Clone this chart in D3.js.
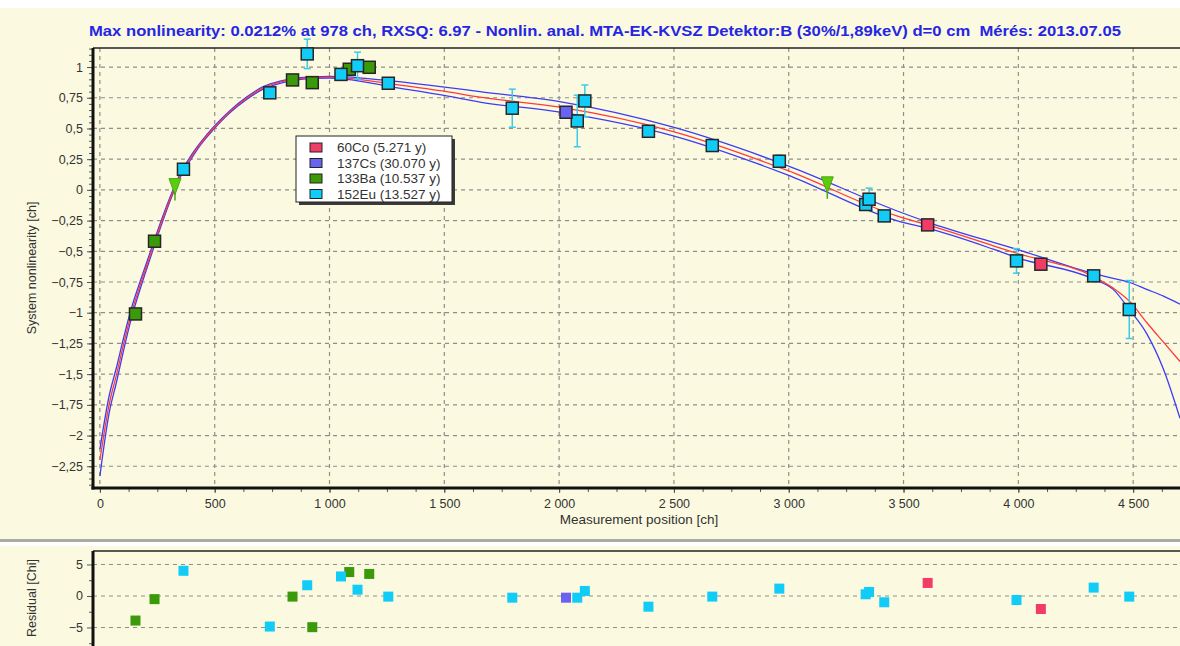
<!DOCTYPE html>
<html>
<head>
<meta charset="utf-8">
<script src="https://cdn.jsdelivr.net/npm/d3@7"></script>
<style>
  html, body { margin: 0; padding: 0; background: #ffffff; }
  svg { display: block; }
  text { font-family: "Liberation Sans", Arial, sans-serif; }
</style>
</head>
<body>
<svg id="chart" width="1180" height="646"></svg>
<script>
// ---- Measured points per source (channel, nonlinearity [ch], 1-sigma, residual [chi]) ----
const co60X   = [3605, 4098];
const co60Y   = [-0.285, -0.605];
const co60Err = [0.015, 0.015];
const co60Res = [2.07, -2.07];

const cs137X   = [2030];
const cs137Y   = [0.632];
const cs137Err = [0.035];
const cs137Res = [-0.27];

const ba133X   = [155, 238, 839, 925, 1086, 1173];
const ba133Y   = [-1.01, -0.418, 0.895, 0.873, 0.982, 0.998];
const ba133Err = [0.01, 0.01, 0.01, 0.01, 0.01, 0.01];
const ba133Res = [-3.9, -0.5, -0.1, -4.95, 3.8, 3.5];

const eu152X   = [364, 740, 903, 1050, 1122, 1256, 1796, 2079, 2112, 2389, 2667, 2959, 3335, 3350, 3416, 3992, 4328, 4483];
const eu152Y   = [0.168, 0.79, 1.107, 0.94, 1.011, 0.868, 0.665, 0.561, 0.724, 0.477, 0.361, 0.233, -0.119, -0.076, -0.212, -0.578, -0.70, -0.974];
const eu152Err = [0.02, 0.02, 0.12, 0.02, 0.11, 0.03, 0.155, 0.21, 0.13, 0.02, 0.03, 0.05, 0.03, 0.09, 0.02, 0.10, 0.02, 0.236];
const eu152Res = [4.0, -4.85, 1.7, 3.1, 1.0, -0.1, -0.27, -0.27, 0.8, -1.7, -0.1, 1.17, 0.27, 0.64, -1.0, -0.64, 1.33, -0.1];

// points left out of the fit
const excludedX = [327, 3168];
const excludedY = [0.027, 0.041];

// ---- Fitted nonlinearity curve and its confidence band ----
const fitX   = [0, 40, 73, 104, 138, 180, 225, 270, 312, 348, 392, 440, 494, 566, 639, 711, 784, 857, 929, 1001, 1074, 1256, 1510, 1655, 1996, 2497, 2991, 3484, 3605, 3891, 4000, 4326, 4413, 4486, 4559, 4632, 4704];
const fitY   = [-2.20, -1.75, -1.50, -1.25, -1.00, -0.75, -0.50, -0.255, -0.045, 0.11, 0.25, 0.38, 0.50, 0.637, 0.746, 0.83, 0.877, 0.903, 0.914, 0.916, 0.91, 0.866, 0.80, 0.755, 0.675, 0.474, 0.16, -0.22, -0.285, -0.455, -0.52, -0.705, -0.80, -0.91, -1.08, -1.24, -1.397];
const upperY = [-2.11, -1.68, -1.44, -1.20, -0.96, -0.72, -0.475, -0.235, -0.03, 0.125, 0.265, 0.39, 0.51, 0.645, 0.755, 0.84, 0.886, 0.91, 0.92, 0.923, 0.92, 0.889, 0.835, 0.80, 0.72, 0.51, 0.20, -0.18, -0.262, -0.428, -0.488, -0.68, -0.72, -0.754, -0.81, -0.865, -0.93];
const lowerY = [-2.33, -1.82, -1.56, -1.30, -1.04, -0.78, -0.525, -0.275, -0.06, 0.095, 0.235, 0.37, 0.49, 0.628, 0.737, 0.82, 0.868, 0.896, 0.908, 0.909, 0.90, 0.843, 0.765, 0.715, 0.635, 0.44, 0.125, -0.258, -0.312, -0.483, -0.555, -0.725, -0.81, -0.98, -1.17, -1.46, -1.86];

// ---- Axis ticks ----
const xTicks   = [0, 500, 1000, 1500, 2000, 2500, 3000, 3500, 4000, 4500];
const yTicks   = [1, 0.75, 0.5, 0.25, 0, -0.25, -0.5, -0.75, -1, -1.25, -1.5, -1.75, -2, -2.25];
const resTicks = [5, 0, -5];

const titleText = "Max nonlinearity: 0.0212% at 978 ch, RXSQ: 6.97 - Nonlin. anal. MTA-EK-KVSZ Detektor:B (30%/1,89keV) d=0 cm  Mérés: 2013.07.05";
const legendNames = ["60Co (5.271 y)", "137Cs (30.070 y)", "133Ba (10.537 y)", "152Eu (13.527 y)"];
const colors = { co60: "#f23c68", cs137: "#6a62f0", ba133: "#3a9a0a", eu152: "#10ccf6" };

// ---- Layout ----
const W = 1180, H = 646;
const main = { left: 93, right: 1180, top: 48, bottom: 488 };
const res  = { left: 93, right: 1180, top: 551, bottom: 646 };

const svg = d3.select("#chart");
const bg = "#fbfae0";

svg.append("rect").attr("width", W).attr("height", H).attr("fill", bg);
svg.append("rect").attr("width", W).attr("height", 8).attr("fill", "#ffffff");
svg.append("rect").attr("x", 0).attr("y", 539).attr("width", W).attr("height", 3).attr("fill", "#a9aaa2");
svg.append("rect").attr("x", 0).attr("y", 542).attr("width", W).attr("height", 4).attr("fill", "#ffffff");

const x = d3.scaleLinear().domain([-30, 4704]).range([main.left, main.right]);
const y = d3.scaleLinear().domain([-2.427, 1.155]).range([main.bottom, main.top]);
const yr = d3.scaleLinear().domain([-7.94, 7.14]).range([res.bottom, res.top]);

const fmtY = v => (v === 0 ? "0" : d3.format("")(v).replace(".", ","));
const fmtX = v => d3.format(",")(v).replace(/,/g, " ");

// ---- Title ----
svg.append("text")
  .attr("x", 605).attr("y", 36)
  .attr("text-anchor", "middle")
  .attr("font-size", 14.5).attr("font-weight", "bold")
  .attr("fill", "#2626e2")
  .style("white-space", "pre")
  .attr("textLength", 1032).attr("lengthAdjust", "spacingAndGlyphs")
  .text(titleText);

// ---- Main panel ----
const gMain = svg.append("g");
const clip = svg.append("defs").append("clipPath").attr("id", "mainClip");
clip.append("rect").attr("x", main.left).attr("y", 30).attr("width", main.right - main.left).attr("height", main.bottom - 30);

// grid
gMain.append("g").selectAll("line").data(yTicks).join("line")
  .attr("x1", main.left).attr("x2", main.right)
  .attr("y1", d => y(d)).attr("y2", d => y(d))
  .attr("stroke", "#8f8f8a").attr("stroke-width", 1.2).attr("stroke-dasharray", "4,4");
gMain.append("g").selectAll("line").data(xTicks).join("line")
  .attr("x1", d => x(d)).attr("x2", d => x(d))
  .attr("y1", main.top).attr("y2", main.bottom)
  .attr("stroke", "#8f8f8a").attr("stroke-width", 1.2).attr("stroke-dasharray", "4,4");

// axes
const yAxis = d3.axisLeft(y).tickValues(yTicks).tickFormat(fmtY).tickSize(5).tickPadding(4);
const yMinor = d3.axisLeft(y).tickValues(d3.range(-2.4, 1.16, 0.05)).tickFormat("").tickSize(3);
const xAxis = d3.axisBottom(x).tickValues(xTicks).tickFormat(fmtX).tickSize(4).tickPadding(6);
const xMinor = d3.axisBottom(x).tickValues(d3.range(0, 4704, 125)).tickFormat("").tickSize(3);

function styleAxis(g) {
  g.select(".domain").remove();
  g.selectAll("line").attr("stroke", "#555");
  g.selectAll("text").attr("font-size", 12.5).attr("fill", "#333")
    .attr("font-family", "\"Liberation Sans\", Arial, sans-serif");
}
gMain.append("g").attr("transform", `translate(${main.left - 1},0)`).call(yMinor).call(styleAxis);
gMain.append("g").attr("transform", `translate(${main.left - 1},0)`).call(yAxis).call(styleAxis);
gMain.append("g").attr("transform", `translate(0,${main.bottom + 1})`).call(xMinor).call(styleAxis);
gMain.append("g").attr("transform", `translate(0,${main.bottom + 1})`).call(xAxis).call(styleAxis);

// frame
gMain.append("line").attr("x1", main.left).attr("x2", main.right).attr("y1", main.top).attr("y2", main.top)
  .attr("stroke", "#222").attr("stroke-width", 1.5);
gMain.append("line").attr("x1", main.left).attr("x2", main.left).attr("y1", main.top).attr("y2", main.bottom + 1.5)
  .attr("stroke", "#111").attr("stroke-width", 3);
gMain.append("line").attr("x1", main.left - 1.5).attr("x2", main.right).attr("y1", main.bottom).attr("y2", main.bottom)
  .attr("stroke", "#111").attr("stroke-width", 3);

// axis titles
svg.append("text").attr("x", 639).attr("y", 524).attr("text-anchor", "middle")
  .attr("font-size", 13.5).attr("fill", "#333").text("Measurement position [ch]");
svg.append("text").attr("transform", "translate(36,268) rotate(-90)").attr("text-anchor", "middle")
  .attr("font-size", 12.5).attr("fill", "#333").text("System nonlinearity [ch]");

// curves
const plot = gMain.append("g").attr("clip-path", "url(#mainClip)");
const line = (ys) => d3.line().curve(d3.curveMonotoneX)
  .x((d, i) => x(fitX[i])).y((d, i) => y(ys[i]))(ys);
plot.append("path").attr("d", line(upperY)).attr("fill", "none").attr("stroke", "#3c3cf6").attr("stroke-width", 1.3);
plot.append("path").attr("d", line(lowerY)).attr("fill", "none").attr("stroke", "#3c3cf6").attr("stroke-width", 1.3);
plot.append("path").attr("d", line(fitY)).attr("fill", "none").attr("stroke", "#ff3a3a").attr("stroke-width", 1.3);

// series
const series = [
  { xs: ba133X, ys: ba133Y, es: ba133Err, rs: ba133Res, c: colors.ba133, ec: "#3a9a0a" },
  { xs: eu152X, ys: eu152Y, es: eu152Err, rs: eu152Res, c: colors.eu152, ec: "#3ccbe8" },
  { xs: cs137X, ys: cs137Y, es: cs137Err, rs: cs137Res, c: colors.cs137, ec: "#8a84f0" },
  { xs: co60X,  ys: co60Y,  es: co60Err,  rs: co60Res,  c: colors.co60,  ec: "#f23c68" }
];

// error bars
series.forEach(s => {
  const g = plot.append("g").attr("stroke", s.ec).attr("stroke-width", 1.5);
  s.xs.forEach((xv, i) => {
    const cx = x(xv), y1 = y(s.ys[i] + s.es[i]), y2 = y(s.ys[i] - s.es[i]);
    g.append("line").attr("x1", cx).attr("x2", cx).attr("y1", y1).attr("y2", y2);
    g.append("line").attr("x1", cx - 3.5).attr("x2", cx + 3.5).attr("y1", y1).attr("y2", y1);
    g.append("line").attr("x1", cx - 3.5).attr("x2", cx + 3.5).attr("y1", y2).attr("y2", y2);
  });
});

// excluded points (down triangles with a short stem)
const gEx = plot.append("g");
excludedX.forEach((d, i) => {
  const cx = x(d), cy = y(excludedY[i]);
  gEx.append("line").attr("x1", cx).attr("x2", cx).attr("y1", cy).attr("y2", cy + 14)
    .attr("stroke", "#4aa80c").attr("stroke-width", 1.5);
  gEx.append("path").attr("d", `M${cx - 6},${cy - 8} L${cx + 6},${cy - 8} L${cx},${cy + 8} Z`)
    .attr("fill", "#5ccc10").attr("stroke", "#4aa80c").attr("stroke-width", 1);
});

// squares
const S = 12;
series.forEach(s => {
  plot.append("g").selectAll("rect").data(s.xs).join("rect")
    .attr("x", (d) => x(d) - S / 2)
    .attr("y", (d, i) => y(s.ys[i]) - S / 2)
    .attr("width", S).attr("height", S)
    .attr("fill", s.c).attr("stroke", "#262626").attr("stroke-width", 1.5);
});

// legend
const lg = svg.append("g").attr("transform", "translate(296,136)");
lg.append("rect").attr("x", 3).attr("y", 3).attr("width", 156).attr("height", 66).attr("fill", "#3a3a3a");
lg.append("rect").attr("x", 0).attr("y", 0).attr("width", 156).attr("height", 66)
  .attr("fill", "#ffffff").attr("stroke", "#222").attr("stroke-width", 1);
const legendColors = [colors.co60, colors.cs137, colors.ba133, colors.eu152];
legendNames.forEach((name, i) => {
  const yy = 11 + i * 15.5;
  lg.append("rect").attr("x", 14).attr("y", yy - 4).attr("width", 12).attr("height", 9)
    .attr("fill", legendColors[i]).attr("stroke", "#222").attr("stroke-width", 1);
  lg.append("text").attr("x", 41).attr("y", yy + 5).attr("font-size", 13.5).attr("fill", "#333").text(name);
});

// ---- Residual panel ----
const gRes = svg.append("g");
gRes.append("g").selectAll("line").data(resTicks).join("line")
  .attr("x1", res.left).attr("x2", res.right)
  .attr("y1", d => yr(d)).attr("y2", d => yr(d))
  .attr("stroke", "#8f8f8a").attr("stroke-width", 1.2).attr("stroke-dasharray", "4,4");
const rAxis = d3.axisLeft(yr).tickValues(resTicks).tickFormat(d3.format("d")).tickSize(5).tickPadding(4);
const rMinor = d3.axisLeft(yr).tickValues([-7.5, -2.5, 2.5]).tickFormat("").tickSize(3);
gRes.append("g").attr("transform", `translate(${res.left - 1},0)`).call(rMinor).call(styleAxis);
gRes.append("g").attr("transform", `translate(${res.left - 1},0)`).call(rAxis).call(styleAxis);
gRes.append("line").attr("x1", res.left).attr("x2", res.right).attr("y1", res.top).attr("y2", res.top)
  .attr("stroke", "#222").attr("stroke-width", 1.5);
gRes.append("line").attr("x1", res.left).attr("x2", res.left).attr("y1", res.top).attr("y2", res.bottom)
  .attr("stroke", "#111").attr("stroke-width", 3);
svg.append("text").attr("transform", "translate(36,598) rotate(-90)").attr("text-anchor", "middle")
  .attr("font-size", 12.5).attr("fill", "#333").text("Residual [Chi]");

const RS = 10;
series.forEach(s => {
  gRes.append("g").selectAll("rect").data(s.xs).join("rect")
    .attr("x", d => x(d) - RS / 2)
    .attr("y", (d, i) => yr(s.rs[i]) - RS / 2)
    .attr("width", RS).attr("height", RS)
    .attr("fill", s.c);
});
</script>
</body>
</html>
